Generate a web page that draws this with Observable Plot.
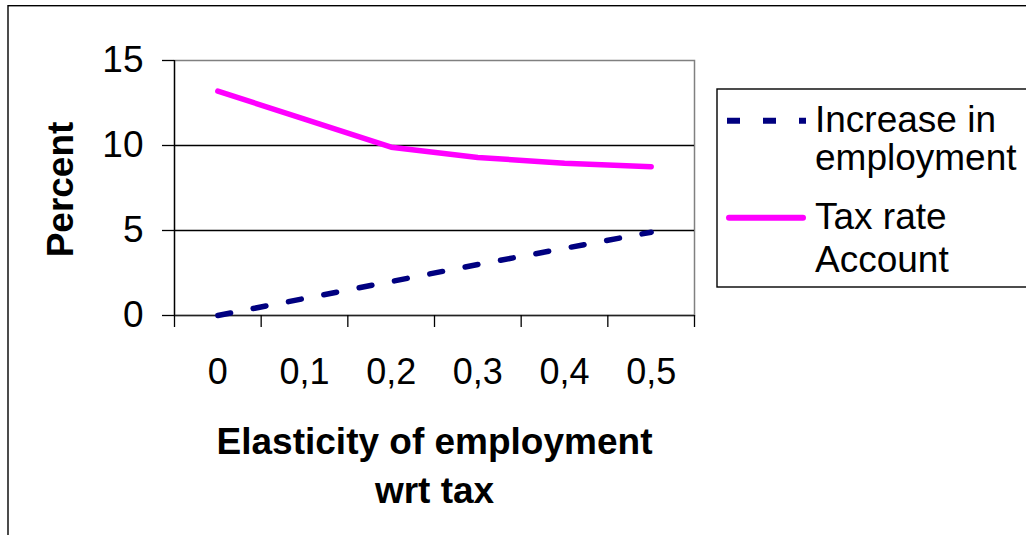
<!DOCTYPE html>
<html><head><meta charset="utf-8">
<script src="https://cdn.jsdelivr.net/npm/d3@7"></script>
<script src="https://cdn.jsdelivr.net/npm/@observablehq/plot@0.6"></script>
<style>body{margin:0;background:#fff}</style>
</head><body><div id="chart"></div>
<script>
const categories = ["0", "0,1", "0,2", "0,3", "0,4", "0,5"];
const employment = [0, 1.0, 2.0, 3.0, 3.95, 4.9];
const taxRate = [13.2, 11.55, 9.9, 9.3, 8.95, 8.75];
const yTicks = [0, 5, 10, 15];
const seriesEmployment = ["Increase in", "employment"];
const seriesTax = ["Tax rate", "Account"];
const xTitle = ["Elasticity of employment", "wrt tax"];
const yTitle = "Percent";

const idx = categories.map((_, i) => i);
const bounds = [...idx.map(i => i - 0.5), categories.length - 0.5];
const empData = idx.map(i => ({i, v: employment[i]}));
const taxData = idx.map(i => ({i, v: taxRate[i]}));

const font = "'Liberation Sans', Arial, sans-serif";
const plot = Plot.plot({
  width: 1026, height: 535,
  marginLeft: 174, marginRight: 332, marginTop: 60, marginBottom: 220,
  style: {fontFamily: font, background: "transparent", color: "#000"},
  x: {type: "linear", domain: [-0.5, categories.length - 0.5]},
  y: {domain: [0, 15]},
  marks: [
    Plot.frame({stroke: "#808080", strokeWidth: 1.5}),
    Plot.ruleY([5, 10], {stroke: "#000", strokeWidth: 1.3}),
    Plot.ruleY([0], {stroke: "#222", strokeWidth: 1.5}),
    Plot.ruleX([-0.5], {stroke: "#000", strokeWidth: 1.3}),
    Plot.axisY({ticks: yTicks, tickSize: 12, tickPadding: 19, fontSize: 37, label: null, strokeWidth: 1.3}),
    Plot.axisX({ticks: bounds, tickSize: 12, tickFormat: () => "", label: null, strokeWidth: 1.3}),
    Plot.axisX({ticks: idx, tickSize: 0, tickPadding: 43, fontSize: 36, tickFormat: i => categories[i], label: null}),
    Plot.line(taxData, {x: "i", y: "v", stroke: "#ff00ff", strokeWidth: 5.5, strokeLinecap: "round", strokeLinejoin: "round"}),
    Plot.line(empData, {x: "i", y: "v", stroke: "#000080", strokeWidth: 5.5, strokeDasharray: "13,23"}),
    Plot.text([yTitle], {frameAnchor: "left", text: d => d, rotate: -90, dx: -113, dy: 1.5, fontSize: 37, fontWeight: "bold", textAnchor: "middle", lineAnchor: "middle"}),
    Plot.text([xTitle.join("\n")], {frameAnchor: "bottom", text: d => d, dy: 104, fontSize: 37, fontWeight: "bold", textAnchor: "middle", lineAnchor: "top", lineHeight: 1.32})
  ]
});

const svg = d3.select(plot);
// outer chart border
svg.append("rect").attr("x", 8).attr("y", 5.7).attr("width", 1100).attr("height", 600)
  .attr("fill", "none").attr("stroke", "#000").attr("stroke-width", 1.4);
// legend
const lg = svg.append("g").attr("font-family", font).attr("font-size", 37)
  .attr("fill", "#000").attr("text-anchor", "start");
lg.append("rect").attr("x", 717).attr("y", 89).attr("width", 340).attr("height", 198)
  .attr("fill", "#fff").attr("stroke", "#000").attr("stroke-width", 1.4);
lg.append("line").attr("x1", 727).attr("x2", 806).attr("y1", 120.7).attr("y2", 120.7)
  .attr("stroke", "#000080").attr("stroke-width", 6).attr("stroke-dasharray", "13,23");
lg.append("line").attr("x1", 729).attr("x2", 803).attr("y1", 217.7).attr("y2", 217.7)
  .attr("stroke", "#ff00ff").attr("stroke-width", 6).attr("stroke-linecap", "round");
lg.append("text").attr("x", 815).attr("y", 132).text(seriesEmployment[0]);
lg.append("text").attr("x", 815).attr("y", 170).text(seriesEmployment[1]);
lg.append("text").attr("x", 815).attr("y", 228.5).text(seriesTax[0]);
lg.append("text").attr("x", 815).attr("y", 271.5).text(seriesTax[1]);

document.getElementById("chart").appendChild(plot);
</script>
</body></html>
